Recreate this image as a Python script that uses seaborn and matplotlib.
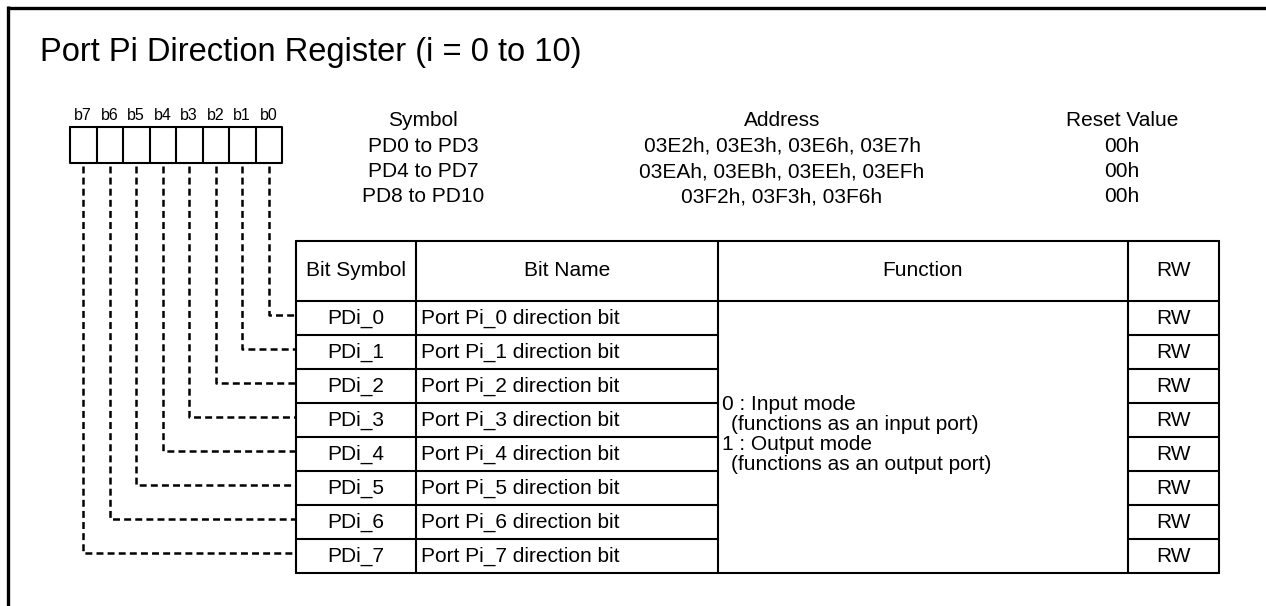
import matplotlib
matplotlib.use("Agg")
import matplotlib.pyplot as plt
import seaborn as sns

# ---------------- data ----------------
title = "Port Pi Direction Register (i = 0 to 10)"
bit_labels = ["b7", "b6", "b5", "b4", "b3", "b2", "b1", "b0"]
reg_symbols = ["PD0 to PD3", "PD4 to PD7", "PD8 to PD10"]
reg_addresses = ["03E2h, 03E3h, 03E6h, 03E7h",
                 "03EAh, 03EBh, 03EEh, 03EFh",
                 "03F2h, 03F3h, 03F6h"]
reg_resets = ["00h", "00h", "00h"]
summary_headers = ["Symbol", "Address", "Reset Value"]
table_headers = ["Bit Symbol", "Bit Name", "Function", "RW"]
bit_symbols = ["PDi_0", "PDi_1", "PDi_2", "PDi_3",
               "PDi_4", "PDi_5", "PDi_6", "PDi_7"]
bit_names = ["Port Pi_0 direction bit", "Port Pi_1 direction bit",
             "Port Pi_2 direction bit", "Port Pi_3 direction bit",
             "Port Pi_4 direction bit", "Port Pi_5 direction bit",
             "Port Pi_6 direction bit", "Port Pi_7 direction bit"]
bit_rw = ["RW", "RW", "RW", "RW", "RW", "RW", "RW", "RW"]
function_lines = ["0 : Input mode", "(functions as an input port)",
                  "1 : Output mode", "(functions as an output port)"]
function_indent = [0, 1, 0, 1]

# ---------------- style ----------------
sns.set_theme(style="white")
plt.rcParams['font.family'] = ['Liberation Sans', 'DejaVu Sans']
plt.rcParams['lines.scale_dashes'] = False

W, H = 1266, 606
fig = plt.figure(figsize=(W / 100, H / 100), dpi=100)
ax = fig.add_axes([0, 0, 1, 1])
ax.set_xlim(0, W)
ax.set_ylim(H, 0)
ax.axis('off')
sns.despine(ax=ax, left=True, bottom=True)

K = 'black'
LW = 1.5
FS = 15

# outer frame (top and left)
ax.plot([7.5, W], [7.5, 7.5], color=K, lw=2.4, solid_capstyle='butt')
ax.plot([7.5, 7.5], [6.3, H], color=K, lw=2.4, solid_capstyle='butt')

# title
ax.text(40, 52, title, fontsize=23.5, ha='left', va='center', color=K)

# ---------------- bit boxes ----------------
box_l, box_r, box_t, box_b = 70, 282, 127, 163
cw = (box_r - box_l) / len(bit_labels)
ax.plot([box_l, box_r, box_r, box_l, box_l], [box_t, box_t, box_b, box_b, box_t],
        color=K, lw=LW)
for k, lab in enumerate(bit_labels):
    x0 = box_l + k * cw
    if k > 0:
        ax.plot([x0, x0], [box_t, box_b], color=K, lw=LW)
    ax.text(x0 + cw / 2, 116, lab, fontsize=11.5, ha='center', va='center', color=K)

# ---------------- summary block ----------------
sum_x = [423, 782, 1122]
sum_y0, sum_dy = 121, 25.3
for x, h in zip(sum_x, summary_headers):
    ax.text(x, sum_y0, h, fontsize=FS, ha='center', va='center', color=K)
for i in range(len(reg_symbols)):
    y = sum_y0 + (i + 1) * sum_dy
    ax.text(sum_x[0], y, reg_symbols[i], fontsize=FS, ha='center', va='center', color=K)
    ax.text(sum_x[1], y, reg_addresses[i], fontsize=FS, ha='center', va='center', color=K)
    ax.text(sum_x[2], y, reg_resets[i], fontsize=FS, ha='center', va='center', color=K)

# ---------------- table ----------------
cols = [296, 416, 718, 1128, 1219]
t_top, h_bot, rh = 241, 301, 34
n = len(bit_symbols)
t_bot = h_bot + n * rh

# outer lines
ax.plot([cols[0], cols[-1]], [t_top, t_top], color=K, lw=LW)
ax.plot([cols[0], cols[-1]], [h_bot, h_bot], color=K, lw=LW)
ax.plot([cols[0], cols[-1]], [t_bot, t_bot], color=K, lw=LW)
for c in cols:
    ax.plot([c, c], [t_top, t_bot], color=K, lw=LW)
# row separators (not in Function column)
for i in range(1, n):
    y = h_bot + i * rh
    ax.plot([cols[0], cols[2]], [y, y], color=K, lw=LW)
    ax.plot([cols[3], cols[4]], [y, y], color=K, lw=LW)

# headers
hy = (t_top + h_bot) / 2
for j, h in enumerate(table_headers):
    ax.text((cols[j] + cols[j + 1]) / 2, hy, h, fontsize=FS, ha='center', va='center', color=K)

# rows
for i in range(n):
    yc = h_bot + i * rh + rh / 2
    ax.text((cols[0] + cols[1]) / 2, yc, bit_symbols[i], fontsize=FS, ha='center', va='center', color=K)
    ax.text(cols[1] + 5, yc, bit_names[i], fontsize=FS, ha='left', va='center', color=K)
    ax.text((cols[3] + cols[4]) / 2, yc, bit_rw[i], fontsize=FS, ha='center', va='center', color=K)

# function text
fy0, fdy = 404, 20
for i, (line, ind) in enumerate(zip(function_lines, function_indent)):
    ax.text(cols[2] + 4 + ind * 9, fy0 + i * fdy, line, fontsize=FS, ha='left', va='center', color=K)

# ---------------- dashed connectors ----------------
for k in range(len(bit_labels)):
    bit = len(bit_labels) - 1 - k
    xc = box_l + k * cw + cw / 2
    yr = h_bot + bit * rh + 13.5
    ax.plot([xc, xc, cols[0]], [box_b + 3, yr, yr], color=K, lw=1.8,
            linestyle=(0, (5, 3)), dash_capstyle='butt')

fig.savefig("out.png", dpi=100)
